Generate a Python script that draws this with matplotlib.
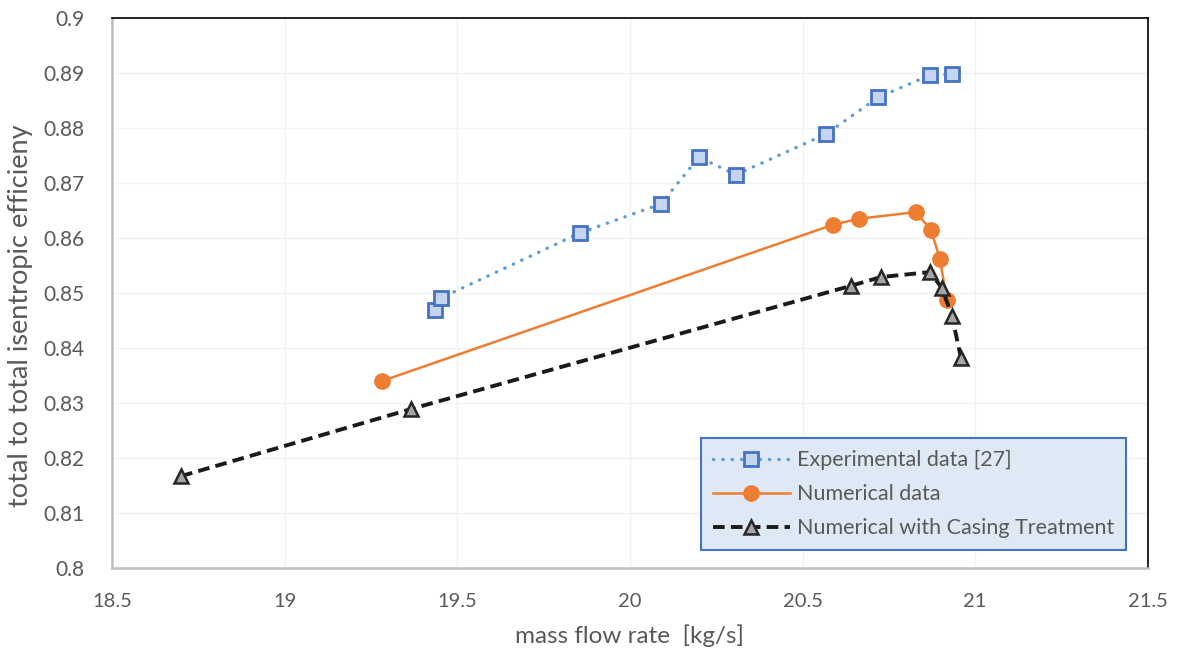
import matplotlib
matplotlib.use('Agg')
import matplotlib.pyplot as plt
import numpy as np

# data
exp_x = [19.435, 19.453, 19.855, 20.09, 20.20, 20.307, 20.568, 20.72, 20.869, 20.933]
exp_y = [0.8469, 0.8491, 0.8609, 0.8662, 0.8747, 0.8715, 0.8789, 0.8856, 0.8896, 0.8898]

num_x = [19.282, 20.588, 20.663, 20.828, 20.872, 20.898, 20.918]
num_y = [0.8340, 0.8624, 0.8635, 0.8647, 0.8615, 0.8562, 0.8487]

ct_x = [18.70, 19.366, 20.64, 20.727, 20.869, 20.904, 20.933, 20.959]
ct_y = [0.8167, 0.8289, 0.8513, 0.8529, 0.8538, 0.8509, 0.8458, 0.8382]

xticks = [18.5, 19, 19.5, 20, 20.5, 21, 21.5]
yticks = [0.8, 0.81, 0.82, 0.83, 0.84, 0.85, 0.86, 0.87, 0.88, 0.89, 0.9]

grey = '#595959'
plt.rcParams['font.family'] = ['Lato', 'DejaVu Sans']

fig = plt.figure(figsize=(11.79, 6.54), dpi=100)
ax = fig.add_axes([0.095, 0.1315, 0.8785, 0.841])

ax.plot(exp_x, exp_y, ls=(0, (0.1, 2.7)), lw=2.4, color='#5b9bd5', dash_capstyle='round',
        marker='s', ms=10, mfc='#c5d5ef', mec='#4472c4', mew=2,
        label='Experimental data [27]', zorder=3)
ax.plot(num_x, num_y, ls='-', lw=1.8, color='#ed7d31', marker='o', ms=11,
        mfc='#ed7d31', mec='#ed7d31', label='Numerical data', zorder=4)
ax.plot(ct_x, ct_y, ls=(0, (3, 1.6)), lw=2.8, color='#1a1a1a', marker='^', ms=10,
        mfc='#a5a5a5', mec='#262626', mew=1.8, label='Numerical with Casing Treatment', zorder=5)

ax.set_xlim(18.5, 21.5)
ax.set_ylim(0.8, 0.9)
ax.set_xticks(xticks)
ax.set_xticklabels([('%g' % v) for v in xticks], fontsize=14.5, color=grey)
ax.set_yticks(yticks)
ax.set_yticklabels([('%g' % v) for v in yticks], fontsize=15, color=grey)
ax.tick_params(axis='x', length=0, pad=18)
ax.tick_params(axis='y', length=0, pad=20)
ax.grid(color='#f0f2f5', lw=1)
ax.set_axisbelow(True)

for s in ['top', 'right']:
    ax.spines[s].set_color('black')
    ax.spines[s].set_linewidth(1.2)
for s in ['left', 'bottom']:
    ax.spines[s].set_color('#bfbfbf')
    ax.spines[s].set_linewidth(1.8)

ax.set_xlabel('mass flow rate  [kg/s]', fontsize=17.5, color=grey)
ax.xaxis.set_label_coords(0.5, -0.103)
ax.set_ylabel('total to total isentropic efficieny', fontsize=19.5, color=grey)
ax.yaxis.set_label_coords(-0.076, 0.458)

leg = ax.legend(loc='center', bbox_to_anchor=(0.558, 0.024, 0.431, 0.221), mode='expand',
                fontsize=15.5, labelcolor=grey, frameon=True, fancybox=False,
                handlelength=3.6, handletextpad=0.3, labelspacing=0.65, borderpad=0.55)
leg.get_frame().set_facecolor('#dfe9f5')
leg.get_frame().set_edgecolor('#4472c4')
leg.get_frame().set_linewidth(1.5)
leg.get_frame().set_alpha(1)

fig.savefig('out.png', dpi=100)
